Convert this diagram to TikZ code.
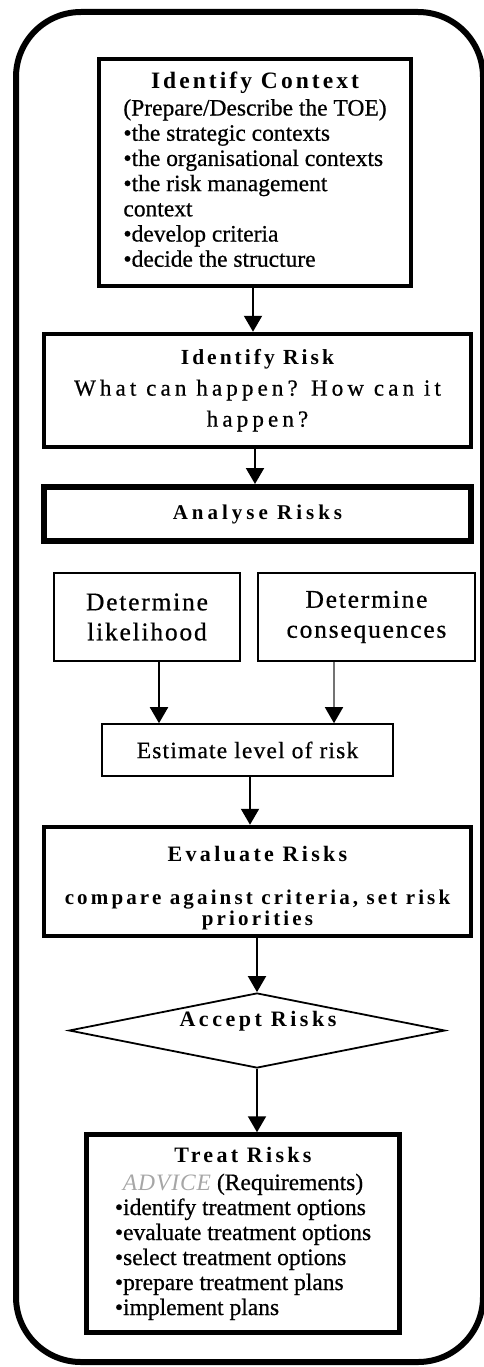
\documentclass[tikz,border=0pt]{standalone}
\usepackage{fontspec}
\setmainfont{Liberation Serif}[UprightFeatures={FakeBold=0.6}]
\usetikzlibrary{shapes.geometric,arrows.meta}

% font size helper and letter-spaced bold headings
\newcommand{\fs}[2]{\fontsize{#1}{#2}\selectfont}
\newcommand{\hd}[2]{{\bfseries\addfontfeatures{LetterSpace=#1}#2}}
\newcommand{\spaced}[2]{{\addfontfeatures{LetterSpace=#1}#2}}

\tikzset{
  frame/.style={draw, rectangle, rounded corners=65pt, line width=6pt, inner sep=0pt},
  box/.style={draw, rectangle, line width=4.5pt, inner sep=0pt},
  heavybox/.style={draw, rectangle, line width=6pt, inner sep=0pt},
  thinbox/.style={draw, rectangle, line width=1.6pt, inner sep=0pt},
  decision/.style={draw, diamond, line width=1.8pt, inner sep=0pt},
  arr/.style={line width=2pt, -{Triangle[width=18pt,length=16pt]}},
  greyarr/.style={line width=1.6pt, draw=black!55,
    -{Triangle[width=18pt,length=16pt,fill=black,color=black]}},
}

\begin{document}
\begin{tikzpicture}[x=1pt, y=-1pt]
\useasboundingbox (0,0) rectangle (484,1367);

% outer rounded frame
\node[frame, minimum width=467pt, minimum height=1350pt] (outer) at (249.5,687) {};

% context box
\node[box, minimum width=312pt, minimum height=227pt, font=\fs{23.5}{25.2}] (ctx) at (255,172.5)
{\begin{tabular}{@{}l@{}}
 \multicolumn{1}{@{}c@{}}{\hd{13}{Identify Context}}\\[2pt]
 (Prepare/Describe the TOE)\\
 \textbullet the strategic contexts\\
 \textbullet the organisational contexts\\
 \textbullet the risk management\\
 context\\
 \textbullet develop criteria\\
 \textbullet decide the structure
 \end{tabular}};

% identify risk box
\node[box, minimum width=427pt, minimum height=113pt, font=\fs{23}{31}, align=center] (idrisk) at (257.5,390.5)
{\hd{14}{\fs{21.5}{31}Identify Risk}\\
 \spaced{18}{What can happen? How can it}\\
 \spaced{18}{happen?}};

% analyse risks box
\node[heavybox, minimum width=427pt, minimum height=54pt, font=\fs{21}{25}] (analyse) at (257.5,514)
{\hd{19}{Analyse Risks}};

% likelihood and consequences
\node[thinbox, minimum width=186pt, minimum height=88pt, font=\fs{25.5}{30}, align=center] (like) at (147,617)
{\spaced{7}{Determine}\\ \spaced{7}{likelihood}};
\node[thinbox, minimum width=217pt, minimum height=88pt, font=\fs{25.5}{30}, align=center] (cons) at (366.5,617)
{\spaced{7}{Determine}\\ \spaced{7}{consequences}};

% estimate level of risk
\node[thinbox, minimum width=291pt, minimum height=52pt, font=\fs{23.5}{28}] (est) at (247.5,750)
{\spaced{5}{Estimate level of risk}};

% evaluate risks box
\node[box, minimum width=427pt, minimum height=109pt, font=\fs{21}{21}, align=center] (eval) at (257.5,881.5)
{\rule{0pt}{29pt}\hd{15}{\fs{22}{21}Evaluate Risks}\\[22pt]
 \hd{15}{compare against criteria, set risk}\\
 \hd{15}{priorities}};

% accept risks decision
\node[decision, minimum width=376pt, minimum height=75pt] (accept) at (257,1030.5) {};
\node[font=\fs{22}{26}, inner sep=0pt] (acceptlbl) at (258,1021) {\hd{16}{Accept Risks}};

% treat risks box
\node[box, minimum width=313pt, minimum height=198pt, font=\fs{23.5}{25}] (treat) at (243,1233.5)
{\begin{tabular}{@{}l@{}}
 \multicolumn{1}{@{}c@{}}{\hd{15}{\fs{22}{25}Treat Risks}}\\[3pt]
 \multicolumn{1}{@{}c@{}}{{\color{black!35}\itshape\spaced{4}{ADVICE}} (Requirements)}\\
 \textbullet identify treatment options\\
 \textbullet evaluate treatment options\\
 \textbullet select treatment options\\
 \textbullet prepare treatment plans\\
 \textbullet implement plans
 \end{tabular}};

% connectors
\draw[arr] ([xshift=-2pt]ctx.south) -- ([xshift=-2pt]ctx.south |- idrisk.north);
\draw[arr] ([xshift=-2.5pt]idrisk.south) -- ([xshift=-2.5pt]idrisk.south |- analyse.north);
\draw[arr] ([xshift=12pt]like.south) -- ([xshift=12pt]like.south |- est.north);
\draw[greyarr] ([xshift=-32.5pt]cons.south) -- ([xshift=-32.5pt]cons.south |- est.north);
\draw[arr] ([xshift=2.5pt]est.south) -- ([xshift=2.5pt]est.south |- eval.north);
\draw[arr] (eval.south -| accept.north) -- (accept.north);
\draw[arr] (accept.south) -- (accept.south |- treat.north);
\end{tikzpicture}
\end{document}
